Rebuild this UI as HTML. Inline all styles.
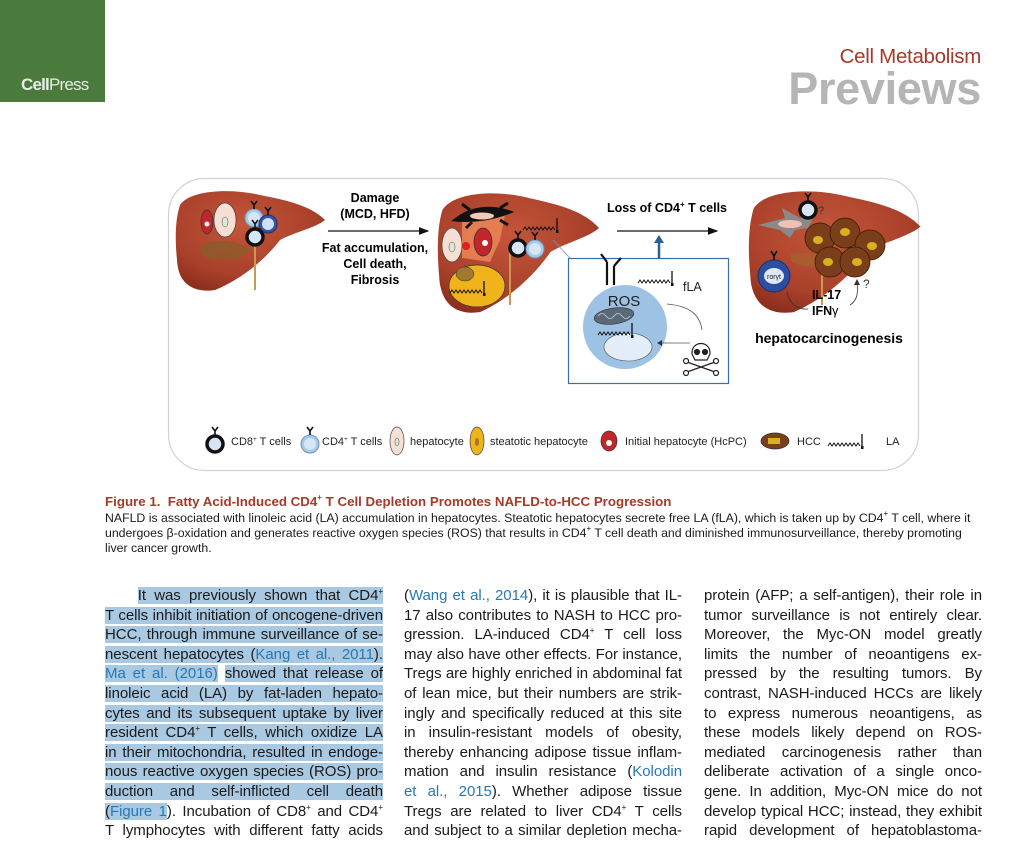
<!DOCTYPE html>
<html><head><meta charset="utf-8"><style>
body{margin:0;width:1023px;height:831px;overflow:hidden;background:#fff;position:relative;font-family:"Liberation Sans",Arial,sans-serif;color:#1a1a1a}
.a{position:absolute}
.col{position:absolute;width:278px;font-size:15px;line-height:19.6px;top:586px}
.col div{white-space:nowrap;text-align:justify;text-align-last:justify;height:19.6px;letter-spacing:-0.05px}
.h{background:#a9c9e2}
.k{color:#2479b5}
sup{font-size:8px;line-height:0;vertical-align:6px}
.cap{position:absolute;left:105px;font-size:12.3px;line-height:15px;width:890px;white-space:nowrap}
svg text{font-family:"Liberation Sans",Arial,sans-serif}
</style></head><body>
<div class="a" style="left:0;top:0;width:105px;height:102px;background:#4a7a3c"></div>
<div class="a" style="left:21px;top:75px;color:#e8eee4;font-size:17px;font-weight:bold;letter-spacing:-0.8px">Cell<span style="font-weight:normal">Press</span></div>
<div class="a" style="right:42px;top:45px;color:#a33a2a;font-size:20.5px;letter-spacing:-0.3px">Cell Metabolism</div>
<div class="a" style="right:42px;top:63px;color:#b5b5b5;font-size:45px;font-weight:bold;letter-spacing:-0.3px">Previews</div>

<svg class="a" style="left:0;top:0" width="1023" height="480" viewBox="0 0 1023 480">
<defs>
<radialGradient id="lv" cx="0.45" cy="0.35" r="0.7"><stop offset="0" stop-color="#c4563a"/><stop offset="0.7" stop-color="#a9402a"/><stop offset="1" stop-color="#8a2e1c"/></radialGradient>
<marker id="ar" markerWidth="8" markerHeight="8" refX="7" refY="4" orient="auto"><path d="M0,1 L8,4 L0,7Z" fill="#111"/></marker>
<path id="liver" d="M5,15 C15,0 55,-2 85,5 C110,10 135,15 150,30 C140,38 120,42 105,50 C90,70 65,90 40,100 C20,103 3,95 2,70 C0,50 0,30 5,15Z"/>
<g id="sq"><path d="M0,6 l2,-3 l2,3 l2,-3 l2,3 l2,-3 l2,3 l2,-3 l2,3 l2,-3 l2,3 l2,-3 l2,3 l2,-3 l2,3 l2,-3 l2,3" fill="none" stroke="#111" stroke-width="1"/><path d="M34,6 V-6" stroke="#111" stroke-width="1.3"/><rect x="33" y="6" width="2.5" height="3" fill="#111"/></g>
<g id="cd8"><circle r="8" fill="#d6e6f4" stroke="#111" stroke-width="3.5"/><path d="M0,-9 V-13 M0,-13 l-3,-4 M0,-13 l3,-4" stroke="#111" stroke-width="1.6" fill="none"/></g>
<g id="cd4"><circle r="9" fill="#a9c9e8" stroke="#6d93bd" stroke-width="1"/><circle r="6" fill="#d6e6f4"/><path d="M0,-9 V-13 M0,-13 l-3,-4 M0,-13 l3,-4" stroke="#111" stroke-width="1.6" fill="none"/></g>
</defs>
<rect x="168.5" y="178.5" width="750" height="292" rx="36" fill="#fff" stroke="#d2d2d2" stroke-width="1.2"/>

<g transform="translate(175,190)"><use href="#liver" fill="url(#lv)"/></g>
<path d="M200,245 C215,238 240,240 250,250 C240,262 215,262 202,256Z" fill="#8e5a2a" opacity="0.85"/>
<path d="M255,240 V290" stroke="#c89a50" stroke-width="2"/>
<ellipse cx="207" cy="222" rx="6" ry="12" fill="#c0262a" stroke="#333" stroke-width="0.7"/><circle cx="207" cy="224" r="2.5" fill="#fff"/>
<ellipse cx="225" cy="220" rx="11" ry="17" fill="#f7e0d3" stroke="#444" stroke-width="0.7"/><ellipse cx="225" cy="222" rx="3" ry="5" fill="#dde9d8" stroke="#444" stroke-width="0.5"/>
<use href="#cd4" x="254" y="218"/>
<g transform="translate(268,224)"><circle r="9" fill="#3556a8" stroke="#1d2f6a"/><circle r="6" fill="#cfe1f3"/><path d="M0,-9 V-13 M0,-13 l-3,-4 M0,-13 l3,-4" stroke="#111" stroke-width="1.6" fill="none"/></g>
<use href="#cd8" x="255" y="237"/>

<text x="375" y="202" font-size="12.5" font-weight="bold" text-anchor="middle">Damage</text>
<text x="375" y="218" font-size="12.5" font-weight="bold" text-anchor="middle">(MCD, HFD)</text>
<line x1="328" y1="231" x2="428" y2="231" stroke="#111" stroke-width="1.3" marker-end="url(#ar)"/>
<text x="375" y="252" font-size="12.5" font-weight="bold" text-anchor="middle">Fat accumulation,</text>
<text x="375" y="268" font-size="12.5" font-weight="bold" text-anchor="middle">Cell death,</text>
<text x="375" y="284" font-size="12.5" font-weight="bold" text-anchor="middle">Fibrosis</text>

<g transform="translate(437,192) scale(1.08,1.2)"><use href="#liver" fill="url(#lv)"/></g>
<path d="M510,250 V305" stroke="#c89a50" stroke-width="2"/>
<path d="M462,220 L505,215 L500,240 L490,262 L462,258Z" fill="#f08a5a" opacity="0.8"/>
<circle cx="466" cy="246" r="4" fill="#e02020"/>
<path d="M455,220 C470,208 490,205 510,212 C495,218 475,222 455,220Z M470,210 l-8,-6 M500,208 l8,-5 M472,222 l-6,6 M500,220 l8,5" stroke="#111" stroke-width="3" fill="#111"/>
<ellipse cx="482" cy="216" rx="12" ry="3.5" fill="#f2c8b8"/>
<ellipse cx="452" cy="245" rx="10" ry="17" fill="#f7e0d3" stroke="#444" stroke-width="0.7"/><ellipse cx="452" cy="247" rx="3" ry="5" fill="#dde9d8" stroke="#444" stroke-width="0.5"/>
<ellipse cx="483" cy="242" rx="9" ry="14" fill="#c0262a" stroke="#333" stroke-width="0.7"/><circle cx="485" cy="243" r="3" fill="#fff"/>
<ellipse cx="477" cy="286" rx="28" ry="21" fill="#f0b31a" stroke="#333" stroke-width="0.7"/>
<ellipse cx="465" cy="274" rx="9" ry="7" fill="#a0782e" stroke="#333" stroke-width="0.5"/>
<use href="#sq" x="450" y="287"/>
<use href="#sq" x="523" y="224"/>
<use href="#cd8" x="518" y="248"/>
<use href="#cd4" x="535" y="249"/>

<text x="667" y="212" font-size="12.5" font-weight="bold" text-anchor="middle">Loss of CD4<tspan font-size="8" dy="-5">+</tspan><tspan dy="5"> T cells</tspan></text>
<line x1="617" y1="231" x2="717" y2="231" stroke="#111" stroke-width="1.3" marker-end="url(#ar)"/>
<line x1="659" y1="258" x2="659" y2="242" stroke="#2a5e94" stroke-width="2.5"/><path d="M654,243 L659,235 L664,243Z" fill="#2a5e94"/>
<line x1="553" y1="240" x2="570" y2="258" stroke="#7a9ac0" stroke-width="0.8"/>
<rect x="568.5" y="258.5" width="160" height="125" fill="#fff" stroke="#3a6ea8" stroke-width="1.2"/>
<circle cx="625" cy="327" r="42" fill="#9dc2e4"/>
<ellipse cx="628" cy="347" rx="24" ry="14" fill="#e4eef8" stroke="#555" stroke-width="0.6"/>
<ellipse cx="614" cy="316" rx="20" ry="8" fill="#5a6a78" stroke="#333" stroke-width="0.6" transform="rotate(-8 614 316)"/>
<path d="M598,316 q4,-5 8,0 q4,5 8,0 q4,-5 8,0 q4,5 8,0" stroke="#c0d0da" fill="none" stroke-width="0.8"/>
<use href="#sq" x="598" y="329"/>
<text x="624" y="306" font-size="15" text-anchor="middle" fill="#222">ROS</text>
<path d="M607,285 V262 M607,262 l-6,-8 M614,285 V266 M614,266 l7,-8" stroke="#111" stroke-width="2.2" fill="none"/>
<use href="#sq" x="638" y="277"/>
<text x="683" y="291" font-size="12.5" fill="#222">fLA</text>
<path d="M667,304 C690,306 700,315 702,330" stroke="#555" fill="none" stroke-width="0.8"/>
<line x1="690" y1="343" x2="662" y2="343" stroke="#555" stroke-width="0.8"/><path d="M662,340 L657,343 L662,346Z" fill="#333"/>
<g transform="translate(701,352)" stroke="#222" fill="#fff" stroke-width="1.2">
<path d="M-14,10 L14,20 M14,10 L-14,20"/><circle cx="-15" cy="9" r="2.5"/><circle cx="15" cy="9" r="2.5"/><circle cx="-15" cy="21" r="2.5"/><circle cx="15" cy="21" r="2.5"/>
<path d="M-9,2 C-10,-12 10,-12 9,2 L6,8 H-6Z"/><circle cx="-4" cy="0" r="2.5" fill="#222"/><circle cx="4" cy="0" r="2.5" fill="#222"/></g>

<g transform="translate(748,190) scale(1.15,1.22)"><use href="#liver" fill="url(#lv)"/></g>
<path d="M790,255 C805,250 825,255 835,262 C825,270 805,268 792,262Z" fill="#a5622e" opacity="0.8"/>
<path d="M822,262 V305" stroke="#c89a50" stroke-width="2"/>
<path d="M758,225 L785,218 L782,208 L800,218 L815,215 L808,228 L795,230 L790,238 L780,230Z" fill="#8a8a8a"/>
<ellipse cx="790" cy="224" rx="12" ry="4" fill="#f2c0b0"/>
<g fill="#7a3e1a" stroke="#3a1a08" stroke-width="0.8">
<circle cx="820" cy="238" r="15"/><circle cx="845" cy="233" r="15"/><circle cx="870" cy="245" r="15"/><circle cx="830" cy="262" r="15"/><circle cx="855" cy="262" r="15"/></g>
<g fill="#d8b020"><ellipse cx="818" cy="240" rx="5" ry="4"/><ellipse cx="845" cy="232" rx="5" ry="4"/><ellipse cx="872" cy="246" rx="5" ry="4"/><ellipse cx="828" cy="262" rx="5" ry="4"/><ellipse cx="857" cy="262" rx="5" ry="4"/></g>
<use href="#cd8" x="808" y="210"/>
<text x="818" y="214" font-size="11" fill="#333">?</text>
<g transform="translate(774,276)"><circle r="16" fill="#2b4ea0" stroke="#1a2e66"/><ellipse rx="10" ry="8" fill="#dce8f4"/><text y="3" font-size="7" text-anchor="middle" fill="#222">rorγt</text><path d="M0,-16 V-20 M0,-20 l-3,-5 M0,-20 l3,-5" stroke="#111" stroke-width="1.6" fill="none"/></g>
<text x="812" y="299" font-size="12.5" font-weight="bold">IL-17</text>
<text x="812" y="315" font-size="12.5" font-weight="bold">IFN<tspan font-weight="normal">γ</tspan></text>
<path d="M787,292 C790,305 798,310 808,309" stroke="#333" fill="none" stroke-width="0.8"/>
<path d="M850,305 C858,300 858,292 857,283" stroke="#333" fill="none" stroke-width="0.8"/><path d="M854,285 L857,279 L860,285Z" fill="#333"/>
<text x="863" y="288" font-size="12" fill="#333">?</text>
<text x="829" y="343" font-size="14" font-weight="bold" text-anchor="middle">hepatocarcinogenesis</text>

<use href="#cd8" x="215" y="444"/>
<text x="231" y="445" font-size="11" fill="#222">CD8<tspan font-size="6.5" dy="-4">+</tspan><tspan dy="4"> T cells</tspan></text>
<use href="#cd4" x="310" y="444"/>
<text x="322" y="445" font-size="11" fill="#222">CD4<tspan font-size="6.5" dy="-4">+</tspan><tspan dy="4"> T cells</tspan></text>
<ellipse cx="397" cy="441" rx="7" ry="14" fill="#f7e0d3" stroke="#444" stroke-width="0.7"/><ellipse cx="397" cy="442" rx="2" ry="4" fill="#dde9d8" stroke="#444" stroke-width="0.5"/>
<text x="410" y="445" font-size="11" fill="#222">hepatocyte</text>
<ellipse cx="477" cy="441" rx="7" ry="14" fill="#f0b31a" stroke="#444" stroke-width="0.7"/><ellipse cx="477" cy="442" rx="2" ry="4" fill="#a0782e"/>
<text x="490" y="445" font-size="11" fill="#222">steatotic hepatocyte</text>
<ellipse cx="609" cy="441" rx="8" ry="10" fill="#c0262a" stroke="#333" stroke-width="0.7"/><circle cx="609" cy="443" r="3" fill="#fff"/>
<text x="625" y="445" font-size="11" fill="#222">Initial hepatocyte (HcPC)</text>
<ellipse cx="775" cy="441" rx="14" ry="8" fill="#7a3e1a" stroke="#333" stroke-width="0.7"/><rect x="768" y="438" width="12" height="6" fill="#d8b020"/>
<text x="797" y="445" font-size="11" fill="#222">HCC</text>
<use href="#sq" x="828" y="440"/>
<text x="886" y="445" font-size="11" fill="#222">LA</text>
</svg>

<div class="cap" style="top:494px;color:#a33a2a;font-weight:bold;font-size:13.3px">Figure 1.&nbsp; Fatty Acid-Induced CD4<sup>+</sup> T Cell Depletion Promotes NAFLD-to-HCC Progression</div>
<div class="cap" style="top:511px">NAFLD is associated with linoleic acid (LA) accumulation in hepatocytes. Steatotic hepatocytes secrete free LA (fLA), which is taken up by CD4<sup>+</sup> T cell, where it<br>undergoes β-oxidation and generates reactive oxygen species (ROS) that results in CD4<sup>+</sup> T cell death and diminished immunosurveillance, thereby promoting<br>liver cancer growth.</div>

<div class="col" style="left:105px">
<div>&nbsp;&nbsp;&nbsp;&nbsp;<span class="h">It was previously shown that CD4<sup>+</sup></span></div>
<div><span class="h">T cells inhibit initiation of oncogene-driven</span></div>
<div><span class="h">HCC, through immune surveillance of se-</span></div>
<div><span class="h">nescent hepatocytes (<span class="k">Kang et al., 2011</span>).</span></div>
<div><span class="h k">Ma et al. (2016)</span> <span class="h">showed that release of</span></div>
<div><span class="h">linoleic acid (LA) by fat-laden hepato-</span></div>
<div><span class="h">cytes and its subsequent uptake by liver</span></div>
<div><span class="h">resident CD4<sup>+</sup> T cells, which oxidize LA</span></div>
<div><span class="h">in their mitochondria, resulted in endoge-</span></div>
<div><span class="h">nous reactive oxygen species (ROS) pro-</span></div>
<div><span class="h">duction and self-inflicted cell death</span></div>
<div><span class="h">(<span class="k">Figure 1</span></span>). Incubation of CD8<sup>+</sup> and CD4<sup>+</sup></div>
<div>T lymphocytes with different fatty acids</div>
</div>

<div class="col" style="left:404px">
<div>(<span class="k">Wang et al., 2014</span>), it is plausible that IL-</div>
<div>17 also contributes to NASH to HCC pro-</div>
<div>gression. LA-induced CD4<sup>+</sup> T cell loss</div>
<div>may also have other effects. For instance,</div>
<div>Tregs are highly enriched in abdominal fat</div>
<div>of lean mice, but their numbers are strik-</div>
<div>ingly and specifically reduced at this site</div>
<div>in insulin-resistant models of obesity,</div>
<div>thereby enhancing adipose tissue inflam-</div>
<div>mation and insulin resistance (<span class="k">Kolodin</span></div>
<div><span class="k">et al., 2015</span>). Whether adipose tissue</div>
<div>Tregs are related to liver CD4<sup>+</sup> T cells</div>
<div>and subject to a similar depletion mecha-</div>
</div>

<div class="col" style="left:704px">
<div>protein (AFP; a self-antigen), their role in</div>
<div>tumor surveillance is not entirely clear.</div>
<div>Moreover, the Myc-ON model greatly</div>
<div>limits the number of neoantigens ex-</div>
<div>pressed by the resulting tumors. By</div>
<div>contrast, NASH-induced HCCs are likely</div>
<div>to express numerous neoantigens, as</div>
<div>these models likely depend on ROS-</div>
<div>mediated carcinogenesis rather than</div>
<div>deliberate activation of a single onco-</div>
<div>gene. In addition, Myc-ON mice do not</div>
<div>develop typical HCC; instead, they exhibit</div>
<div>rapid development of hepatoblastoma-</div>
</div>
</body></html>
